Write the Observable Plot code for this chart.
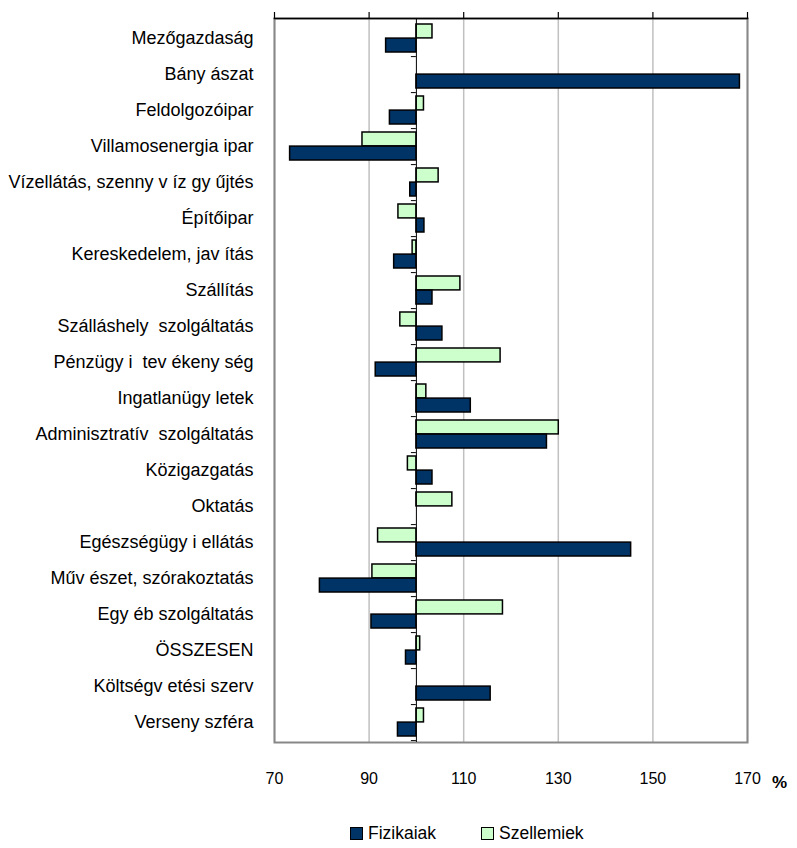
<!DOCTYPE html>
<html>
<head>
<meta charset="utf-8">
<script src="https://cdn.jsdelivr.net/npm/d3@7"></script>
<script src="https://cdn.jsdelivr.net/npm/@observablehq/plot@0.6"></script>
<style>
  body { margin: 0; background: #fff; font-family: "Liberation Sans", Arial, sans-serif; }
  #wrap { position: relative; width: 797px; height: 848px; }
  #legend { position: absolute; top: 823px; left: 0; width: 797px; height: 20px; font-size: 17.5px; color: #000; }
  .item { position: absolute; top: 0; display: flex; align-items: center; gap: 5px; }
  .sw { width: 11px; height: 11px; border: 1.5px solid #000; box-sizing: content-box; }
</style>
</head>
<body>
<div id="wrap">
  <div id="chart"></div>
  <div id="legend"></div>
</div>
<script>
const categories = [
  "Mezőgazdaság", "Bány ászat", "Feldolgozóipar", "Villamosenergia ipar",
  "Vízellátás, szenny v íz gy űjtés", "Építőipar", "Kereskedelem, jav ítás",
  "Szállítás", "Szálláshely  szolgáltatás", "Pénzügy i  tev ékeny ség",
  "Ingatlanügy letek", "Adminisztratív  szolgáltatás", "Közigazgatás", "Oktatás",
  "Egészségügy i ellátás", "Műv észet, szórakoztatás", "Egy éb szolgáltatás",
  "ÖSSZESEN", "Költségv etési szerv", "Verseny szféra"
];
const fizikaiak = [93.6, 168.4, 94.4, 73.3, 98.7, 101.7, 95.3, 103.4, 105.5, 91.4,
                   111.5, 127.6, 103.4, null, 145.4, 79.6, 90.5, 97.8, 115.7, 96.1];
const szellemiek = [103.4, null, 101.6, 88.6, 104.7, 96.2, 99.2, 109.3, 96.6, 117.8,
                    102.1, 130.1, 98.2, 107.6, 91.9, 90.7, 118.3, 100.8, null, 101.6];
const xTicks = [70, 90, 110, 130, 150, 170];
const seriesNames = ["Fizikaiak", "Szellemiek"];
const seriesColors = ["#003366", "#CCFFCC"];
const baseline = 100;

const rowsF = categories.map((c, i) => ({cat: c, value: fizikaiak[i]})).filter(d => d.value != null);
const rowsS = categories.map((c, i) => ({cat: c, value: szellemiek[i]})).filter(d => d.value != null);

const H = 800, mTop = 18, mBottom = 58;
const band = (H - mTop - mBottom) / categories.length;

const chart = Plot.plot({
  width: 797,
  height: H,
  marginTop: mTop,
  marginBottom: mBottom,
  marginLeft: 274,
  marginRight: 50,
  style: {fontFamily: "'Liberation Sans', Arial, sans-serif", background: "#fff", color: "#000"},
  x: {domain: [70, 170]},
  y: {domain: categories, padding: 0},
  marks: [
    Plot.gridX(xTicks, {stroke: "#c0c0c0", strokeOpacity: 1, strokeWidth: 1.5}),
    Plot.frame({stroke: "#888", strokeWidth: 2}),
    Plot.frame({anchor: "top", stroke: "#000", strokeWidth: 1.5}),
    Plot.axisX(xTicks, {anchor: "top", tickSize: 7, tickFormat: () => "", stroke: "#000", strokeWidth: 1.2, label: null}),
    Plot.axisX(xTicks, {anchor: "bottom", tickSize: 0, tickPadding: 30, fontSize: 16, fill: "#000", label: null}),
    Plot.axisY({tickSize: 0, tickPadding: 21, fontSize: 18, fill: "#000", label: null}),
    Plot.barX(rowsS, {y: "cat", x1: baseline, x2: "value", fill: seriesColors[1], stroke: "#000", strokeWidth: 1.5, insetTop: 4, insetBottom: band / 2}),
    Plot.barX(rowsF, {y: "cat", x1: baseline, x2: "value", fill: seriesColors[0], stroke: "#000", strokeWidth: 1.5, insetTop: band / 2, insetBottom: 4}),
    Plot.ruleX([baseline], {stroke: "#000", strokeWidth: 1}),
    Plot.ruleY(categories, {y: d => d, x1: baseline, x2: baseline, insetLeft: -5, dy: band / 2, stroke: "#000", strokeWidth: 1}),
    Plot.text(["%"], {frameAnchor: "bottom-right", dx: 32, dy: 45, lineAnchor: "bottom", textAnchor: "middle", fontSize: 17, fontWeight: "bold", fill: "#000"})
  ]
});
document.getElementById("chart").appendChild(chart);

const legend = document.getElementById("legend");
const lefts = [350, 481];
seriesNames.forEach((name, i) => {
  const item = document.createElement("div");
  item.className = "item";
  item.style.left = lefts[i] + "px";
  const sw = document.createElement("span");
  sw.className = "sw";
  sw.style.background = seriesColors[i];
  const t = document.createElement("span");
  t.textContent = name;
  item.appendChild(sw);
  item.appendChild(t);
  legend.appendChild(item);
});
</script>
</body>
</html>
